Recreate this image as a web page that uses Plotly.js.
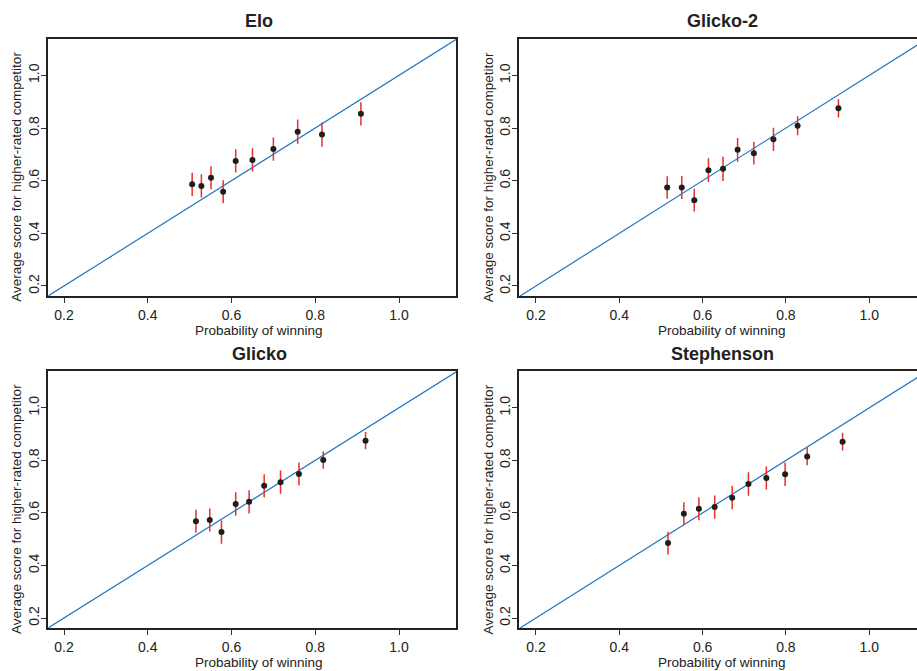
<!DOCTYPE html>
<html>
<head>
<meta charset="utf-8">
<script src="https://cdn.plot.ly/plotly-3.0.1.min.js"></script>
<style>html,body{margin:0;padding:0;background:#fff;}#chart{width:917px;height:671px;}</style>
</head>
<body>
<div id="chart"></div>
<script>
// ---- data ----
const panelTitles = ["Elo", "Glicko-2", "Glicko", "Stephenson"];
const xLabel = "Probability of winning";
const yLabel = "Average score for higher-rated competitor";
const tickValues = [0.2, 0.4, 0.6, 0.8, 1.0];
const tickLabels = ["0.2", "0.4", "0.6", "0.8", "1.0"];
const diagLine = [0.0, 1.3];

const eloProb  = [0.506, 0.528, 0.551, 0.580, 0.610, 0.650, 0.700, 0.758, 0.816, 0.909];
const eloScore = [0.586, 0.580, 0.611, 0.558, 0.675, 0.679, 0.720, 0.786, 0.775, 0.854];
const eloErr   = [0.044, 0.044, 0.044, 0.044, 0.044, 0.044, 0.044, 0.046, 0.046, 0.044];

const glicko2Prob  = [0.515, 0.550, 0.580, 0.614, 0.649, 0.684, 0.723, 0.770, 0.828, 0.926];
const glicko2Score = [0.574, 0.574, 0.526, 0.640, 0.645, 0.717, 0.704, 0.757, 0.809, 0.875];
const glicko2Err   = [0.043, 0.044, 0.043, 0.045, 0.046, 0.045, 0.043, 0.044, 0.036, 0.035];

const glickoProb  = [0.515, 0.548, 0.576, 0.610, 0.642, 0.678, 0.717, 0.761, 0.819, 0.920];
const glickoScore = [0.568, 0.573, 0.527, 0.634, 0.642, 0.703, 0.717, 0.748, 0.801, 0.875];
const glickoErr   = [0.044, 0.044, 0.044, 0.045, 0.044, 0.044, 0.044, 0.044, 0.033, 0.033];

const stephProb  = [0.517, 0.555, 0.591, 0.629, 0.671, 0.710, 0.753, 0.798, 0.851, 0.936];
const stephScore = [0.485, 0.597, 0.616, 0.622, 0.658, 0.710, 0.733, 0.747, 0.815, 0.871];
const stephErr   = [0.043, 0.044, 0.044, 0.044, 0.044, 0.045, 0.044, 0.045, 0.034, 0.034];

// ---- build ----
const W = 917, H = 671;
const FONT = "Liberation Sans, Arial, Helvetica, sans-serif";
const series = [
  {x: eloProb, y: eloScore, e: eloErr},
  {x: glicko2Prob, y: glicko2Score, e: glicko2Err},
  {x: glickoProb, y: glickoScore, e: glickoErr},
  {x: stephProb, y: stephScore, e: stephErr}
];
// pixel boxes [left, right, top, bottom]
const boxes = [
  [48.3, 456, 38.5, 296],
  [519.3, 917, 38.5, 296],
  [48.3, 456, 371, 628],
  [519.3, 917, 371, 628]
];
const xRanges = [[0.1625, 1.136], [0.160, 1.1146], [0.1625, 1.136], [0.160, 1.1146]];
const yRange = [0.162, 1.140];

const traces = [];
const layout = {
  width: W, height: H,
  margin: {l: 0, r: 0, t: 0, b: 0},
  paper_bgcolor: "#fff", plot_bgcolor: "#fff",
  showlegend: false,
  font: {family: FONT, color: "#222", size: 14},
  annotations: []
};

series.forEach((s, i) => {
  const n = i + 1;
  const xa = "x" + (n === 1 ? "" : n), ya = "y" + (n === 1 ? "" : n);
  traces.push({
    type: "scatter", mode: "lines", x: diagLine, y: diagLine,
    xaxis: xa, yaxis: ya, line: {color: "#1f77c4", width: 1.2}, hoverinfo: "skip"
  });
  traces.push({
    type: "scatter", mode: "markers", x: s.x, y: s.y,
    xaxis: xa, yaxis: ya,
    marker: {color: "#1e1e1e", size: 6},
    error_y: {type: "data", array: s.e, visible: true, color: "rgb(235,45,45)", thickness: 1.5, width: 0}
  });
  const b = boxes[i];
  const isRight = (i % 2 === 1);
  const xkey = "xaxis" + (n === 1 ? "" : n), ykey = "yaxis" + (n === 1 ? "" : n);
  layout[xkey] = {
    domain: [b[0] / W, b[1] / W], range: xRanges[i], anchor: ya,
    showgrid: false, zeroline: false, showline: true, linewidth: 2, linecolor: "#222", mirror: true,
    ticks: "outside", ticklen: 5, tickwidth: 1, tickcolor: "#333",
    tickvals: tickValues, ticktext: tickLabels,
    tickfont: {family: FONT, size: 14, color: "#222"}
  };
  layout[ykey] = {
    domain: [(H - b[3]) / H, (H - b[2]) / H], range: yRange, anchor: xa,
    showgrid: false, zeroline: false, showline: true, linewidth: 2, linecolor: "#222", mirror: !isRight,
    ticks: "outside", ticklen: 5, tickwidth: 1, tickcolor: "#333",
    tickvals: tickValues, ticktext: tickLabels, tickangle: -90, ticklabelstandoff: -3,
    tickfont: {family: FONT, size: 14, color: "#222"}
  };
  const cx = isRight ? 722 : 259;
  const top = b[2], bottom = b[3];
  // panel title
  layout.annotations.push({
    text: "<b>" + panelTitles[i] + "</b>", xref: "paper", yref: "paper",
    x: cx / W, y: (H - (top - 17)) / H, xanchor: "center", yanchor: "middle",
    showarrow: false, font: {family: FONT, size: 18, color: "#222"}
  });
  // x-axis title
  layout.annotations.push({
    text: xLabel, xref: "paper", yref: "paper",
    x: cx / W, y: (H - (bottom + 34)) / H, xanchor: "center", yanchor: "middle",
    showarrow: false, font: {family: FONT, size: 13.5, color: "#222"}
  });
  // y-axis title
  const yx = isRight ? 488 : 16.5;
  layout.annotations.push({
    text: yLabel, xref: "paper", yref: "paper", textangle: -90,
    x: yx / W, y: (H - ((top + bottom) / 2 + 10)) / H, xanchor: "center", yanchor: "middle",
    showarrow: false, font: {family: FONT, size: 13.5, color: "#222"}
  });
});

Plotly.newPlot("chart", traces, layout, {displayModeBar: false, staticPlot: true});
</script>
</body>
</html>
